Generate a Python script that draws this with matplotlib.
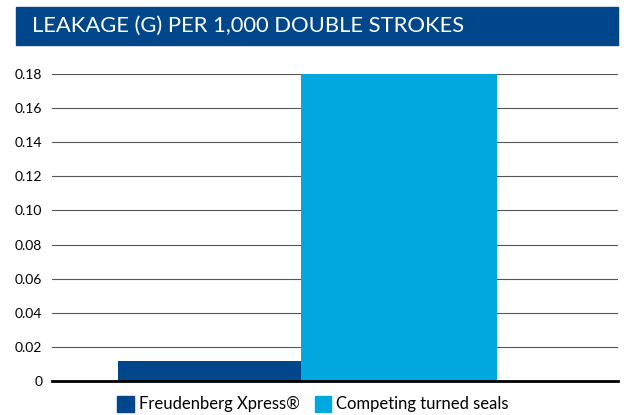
import matplotlib
matplotlib.use("Agg")
import matplotlib.pyplot as plt
from matplotlib.patches import Rectangle

# data
categories = ["Freudenberg Xpress®", "Competing turned seals"]
leakage = [0.012, 0.18]
colors = ["#00468B", "#00A8E0"]
yticks = [0, 0.02, 0.04, 0.06, 0.08, 0.10, 0.12, 0.14, 0.16, 0.18]
ytick_labels = ["0", "0.02", "0.04", "0.06", "0.08", "0.10", "0.12", "0.14", "0.16", "0.18"]
title = "LEAKAGE (G) PER 1,000 DOUBLE STROKES"

plt.rcParams['font.family'] = ['Lato', 'DejaVu Sans']

W, H = 630, 415
fig = plt.figure(figsize=(W / 100, H / 100), dpi=100)

# title bar
fig.patches.append(Rectangle((16 / W, 1 - 45 / H), (618 - 16) / W, 38 / H,
                             transform=fig.transFigure, color="#00468B", zorder=0))
fig.text(32 / W, 1 - 26 / H, title, color="white", fontsize=15.8,
         va="center", ha="left")

# axes
ax = fig.add_axes([52 / W, 1 - 381 / H, (618 - 52) / W, (381 - 74) / H])
x = [0, 1]
ax.bar(x, leakage, width=[0.966, 1.034], color=colors, zorder=2)
ax.set_xlim(-0.831, 2.156)
ax.set_ylim(0, 0.18)
ax.set_yticks(yticks)
ax.set_yticklabels(ytick_labels, fontsize=10)
ax.set_xticks([])
ax.grid(axis="y", color="#555555", linewidth=0.8, zorder=1)
for s in ["top", "right", "left"]:
    ax.spines[s].set_visible(False)
ax.spines["bottom"].set_linewidth(2)
ax.spines["bottom"].set_zorder(3)
ax.tick_params(axis="y", length=0, pad=7)

# legend
handles = [Rectangle((0, 0), 1, 1, color=c) for c in colors]
fig.legend(handles, categories, loc="center", bbox_to_anchor=(313 / W, 1 - 404 / H),
           ncol=2, frameon=False, fontsize=12, handlelength=1.0, handleheight=1.1,
           handletextpad=0.3, columnspacing=0.9, borderaxespad=0)

fig.savefig("out.png", dpi=100)
